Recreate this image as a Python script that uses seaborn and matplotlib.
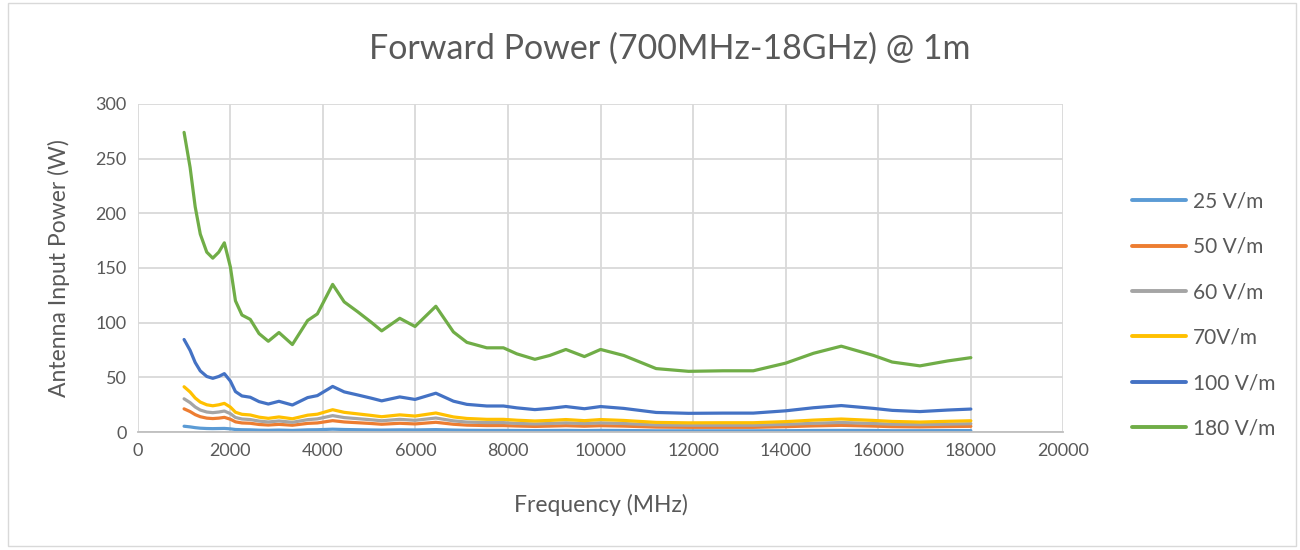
import matplotlib
matplotlib.use("Agg")
import matplotlib.pyplot as plt
from matplotlib.patches import Rectangle
import pandas as pd
import seaborn as sns

# frequency points (MHz)
freq = [1000, 1130, 1240, 1350, 1490, 1620, 1750, 1870, 2000, 2110, 2250, 2430,
        2620, 2820, 3050, 3340, 3670, 3880, 4210, 4460, 4750, 5040, 5270, 5660,
        5990, 6440, 6820, 7110, 7540, 7900, 8190, 8580, 8900, 9250, 9650, 10000,
        10500, 11200, 11900, 12650, 13300, 14000, 14600, 15200, 15900, 16300,
        16900, 17500, 18000]

p25 = [5.3, 4.7, 4.0, 3.5, 3.2, 3.1, 3.2, 3.3, 2.9, 2.3, 2.1, 2.0, 1.7, 1.6, 1.8,
       1.5, 2.0, 2.1, 2.6, 2.3, 2.1, 1.9, 1.8, 2.0, 1.9, 2.2, 1.8, 1.6, 1.5, 1.5,
       1.4, 1.3, 1.4, 1.5, 1.3, 1.5, 1.4, 1.1, 1.1, 1.1, 1.1, 1.2, 1.4, 1.5, 1.4,
       1.2, 1.2, 1.3, 1.3]
p50 = [21.2, 18.7, 15.9, 14.0, 12.7, 12.3, 12.7, 13.4, 11.7, 9.3, 8.3, 8.0, 6.9,
       6.4, 7.0, 6.2, 7.9, 8.3, 10.4, 9.2, 8.5, 7.8, 7.1, 8.0, 7.4, 8.9, 7.1, 6.3,
       5.9, 5.9, 5.5, 5.1, 5.4, 5.8, 5.3, 5.8, 5.4, 4.5, 4.3, 4.3, 4.3, 4.9, 5.6,
       6.1, 5.4, 4.9, 4.7, 5.0, 5.2]
p60 = [30.4, 26.9, 22.9, 20.1, 18.3, 17.7, 18.3, 19.2, 16.8, 13.3, 11.9, 11.4, 10.0,
       9.2, 10.1, 8.9, 11.3, 12.0, 15.0, 13.2, 12.2, 11.2, 10.3, 11.6, 10.7, 12.8,
       10.2, 9.1, 8.6, 8.6, 7.9, 7.4, 7.8, 8.4, 7.7, 8.4, 7.8, 6.4, 6.2, 6.2, 6.2,
       7.0, 8.0, 8.7, 7.8, 7.1, 6.7, 7.2, 7.6]
p70 = [41.4, 36.6, 31.1, 27.4, 24.9, 24.0, 24.9, 26.2, 22.8, 18.1, 16.2, 15.6, 13.6,
       12.5, 13.8, 12.1, 15.4, 16.3, 20.4, 18.0, 16.6, 15.2, 14.0, 15.7, 14.6, 17.4,
       13.8, 12.4, 11.6, 11.6, 10.8, 10.1, 10.6, 11.4, 10.4, 11.4, 10.6, 8.8, 8.4,
       8.5, 8.5, 9.5, 10.9, 11.9, 10.6, 9.7, 9.1, 9.8, 10.3]
p100 = [84.6, 74.7, 63.6, 55.9, 50.8, 49.1, 50.8, 53.4, 46.6, 37.0, 33.0, 31.8, 27.8,
        25.6, 28.1, 24.7, 31.5, 33.3, 41.7, 36.7, 33.9, 31.0, 28.5, 32.1, 29.8, 35.5,
        28.2, 25.3, 23.8, 23.8, 22.1, 20.5, 21.6, 23.3, 21.3, 23.3, 21.6, 17.9, 17.1,
        17.3, 17.3, 19.4, 22.2, 24.2, 21.6, 19.8, 18.7, 20.1, 21.0]
p180 = [274, 242, 206, 181, 164.5, 159, 164.5, 173, 151, 120, 107, 103, 90, 83, 91,
        80, 102, 108, 135, 119, 110, 100.5, 92.5, 104, 96.5, 115, 91.5, 82, 77, 77,
        71.5, 66.5, 70, 75.5, 69, 75.5, 70, 58, 55.5, 56, 56, 63, 72, 78.5, 70, 64,
        60.5, 65, 68]

series = ["25 V/m", "50 V/m", "60 V/m", "70V/m", "100 V/m", "180 V/m"]
colors = ["#5B9BD5", "#ED7D31", "#A5A5A5", "#FFC000", "#4472C4", "#70AD47"]

frames = []
for name, vals in zip(series, [p25, p50, p60, p70, p100, p180]):
    frames.append(pd.DataFrame({"freq": freq, "power": vals, "series": name}))
df = pd.concat(frames, ignore_index=True)

sns.set_theme(style="white")
plt.rcParams["font.family"] = ["Lato", "DejaVu Sans"]
txt = "#595959"

fig = plt.figure(figsize=(13, 5.5), dpi=100)
ax = fig.add_axes([0.106, 0.2145, 0.712, 0.5965])

sns.lineplot(data=df, x="freq", y="power", hue="series", palette=colors,
             hue_order=series, linewidth=2.3, ax=ax, sort=False)
for ln in ax.get_lines():
    ln.set_solid_joinstyle("round")

ax.set_xlim(0, 20000)
ax.set_ylim(0, 300)
ax.set_xticks(range(0, 20001, 2000))
ax.set_yticks(range(0, 301, 50))
ax.grid(True, color="#d9d9d9", linewidth=1.3)
ax.set_axisbelow(True)
for s in ["top", "right", "left"]:
    ax.spines[s].set_visible(False)
ax.spines["bottom"].set_color("#bfbfbf")
ax.spines["bottom"].set_linewidth(1.3)
ax.tick_params(axis="both", length=0, labelsize=13, labelcolor=txt, pad=8)

ax.set_xlabel("Frequency (MHz)", fontsize=16.5, color=txt, labelpad=25)
ax.set_ylabel("Antenna Input Power (W)", fontsize=16.5, color=txt, labelpad=18)
fig.text(0.515, 0.912, "Forward Power (700MHz-18GHz) @ 1m", ha="center",
         va="center", fontsize=24.5, color=txt)

leg = ax.legend(loc="upper left", bbox_to_anchor=(0.871, 0.652),
                bbox_transform=fig.transFigure, frameon=False, fontsize=15,
                handlelength=2.6, handletextpad=0.3, labelspacing=1.22,
                borderaxespad=0, borderpad=0)
for t in leg.get_texts():
    t.set_color(txt)
for h in leg.get_lines():
    h.set_linewidth(2.8)

fig.patches.append(Rectangle((0.006, 0.007), 0.991, 0.988, transform=fig.transFigure,
                             fill=False, edgecolor="#d9d9d9", linewidth=1))

plt.savefig("out.png", dpi=100)
plt.close()
